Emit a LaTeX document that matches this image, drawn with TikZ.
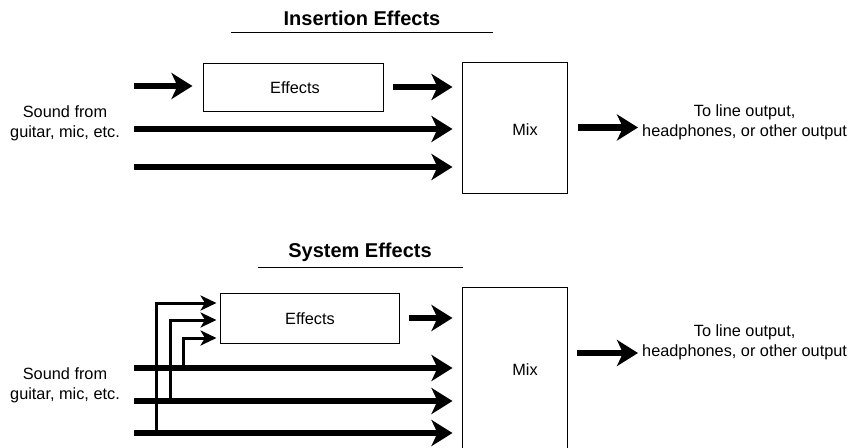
\documentclass[tikz,border=0pt]{standalone}
\usepackage{fontspec}
\setmainfont{Liberation Sans}
\usetikzlibrary{arrows.meta,calc}
\begin{document}
\begin{tikzpicture}[x=1pt,y=-1pt,
  txt/.style={font=\fontsize{16.3}{20}\selectfont, align=center, inner sep=0pt},
  ttl/.style={font=\bfseries\fontsize{20}{24}\selectfont, inner sep=0pt},
  boxn/.style={draw, line width=1pt, inner sep=0pt},
  bigarrow/.style={line width=6.5pt, -{Stealth[length=21pt,width=26pt,inset=6pt]}},
  thinarrow/.style={line width=3pt, -{Stealth[length=16pt,width=15pt,inset=4.5pt]}},
  uline/.style={line width=1pt}]
\clip (0,0) rectangle (853,447);
\fill[white] (0,0) rectangle (853,447);

% ---------- Insertion Effects ----------
\node[ttl] (t1) at (362,18) {Insertion Effects};
\coordinate (u1a) at (231,32);
\coordinate (u1b) at (493,32);
\draw[uline] (u1a) -- (u1b);

\node[boxn, minimum width=180pt, minimum height=48pt] (eff1) at (293,87) {};
\node[txt] (efft1) at (295,88) {Effects};
\node[boxn, minimum width=105pt, minimum height=131pt] (mix1) at (514.5,127.5) {};
\node[txt] (mixt1) at (525,130) {Mix};
\node[txt] (src1) at (65,123) {Sound from\\guitar, mic, etc.};
\node[txt, anchor=west] (out1) at (642,122) {To line output,\\headphones, or other output};

\coordinate (a1) at (134,86);
\coordinate (b1) at (134,129);
\coordinate (c1) at (134,167);
\draw[bigarrow, shorten >=10pt] (a1) -- (a1 -| eff1.west);
\draw[bigarrow, shorten <=9pt, shorten >=9pt] (eff1.east) -- (eff1.east -| mix1.west);
\draw[bigarrow, shorten >=9pt] (b1) -- (b1 -| mix1.west);
\draw[bigarrow, shorten >=9pt] (c1) -- (c1 -| mix1.west);
\draw[bigarrow, shorten <=10pt, shorten >=4pt] (mix1.east) -- (mix1.east -| out1.west);

% ---------- System Effects ----------
\node[ttl] (t2) at (360,252) {System Effects};
\coordinate (u2a) at (258,267);
\coordinate (u2b) at (463,267);
\draw[uline] (u2a) -- (u2b);

\node[boxn, minimum width=179pt, minimum height=50pt] (eff2) at (309.5,318) {};
\node[txt] (efft2) at (310,319) {Effects};
\node[boxn, minimum width=105pt, minimum height=165pt] (mix2) at (514.5,369.5) {};
\node[txt] (mixt2) at (525,370) {Mix};
\node[txt] (src2) at (65,385) {Sound from\\guitar, mic, etc.};
\node[txt, anchor=west] (out2) at (642,342.5) {To line output,\\headphones, or other output};

\coordinate (a2) at (134,368);
\coordinate (b2) at (134,401);
\coordinate (c2) at (134,433);
\coordinate (br1) at (156,433);
\coordinate (br2) at (170,401);
\coordinate (br3) at (183,368);

\draw[thinarrow, shorten >=3pt] (br1) |- ([yshift=15pt]eff2.west);
\draw[thinarrow, shorten >=3pt] (br2) |- ([yshift=-2pt]eff2.west);
\draw[thinarrow, shorten >=3pt] (br3) |- ([yshift=-20pt]eff2.west);

\draw[bigarrow, shorten >=9pt] (a2) -- (a2 -| mix2.west);
\draw[bigarrow, shorten >=9pt] (b2) -- (b2 -| mix2.west);
\draw[bigarrow, shorten >=9pt] (c2) -- (c2 -| mix2.west);
\draw[bigarrow, shorten <=9pt, shorten >=9pt] (eff2.east) -- (eff2.east -| mix2.west);
\coordinate (o2) at (567,353);
\draw[bigarrow, shorten <=10pt, shorten >=4pt] (o2) -- (o2 -| out2.west);
\end{tikzpicture}
\end{document}
